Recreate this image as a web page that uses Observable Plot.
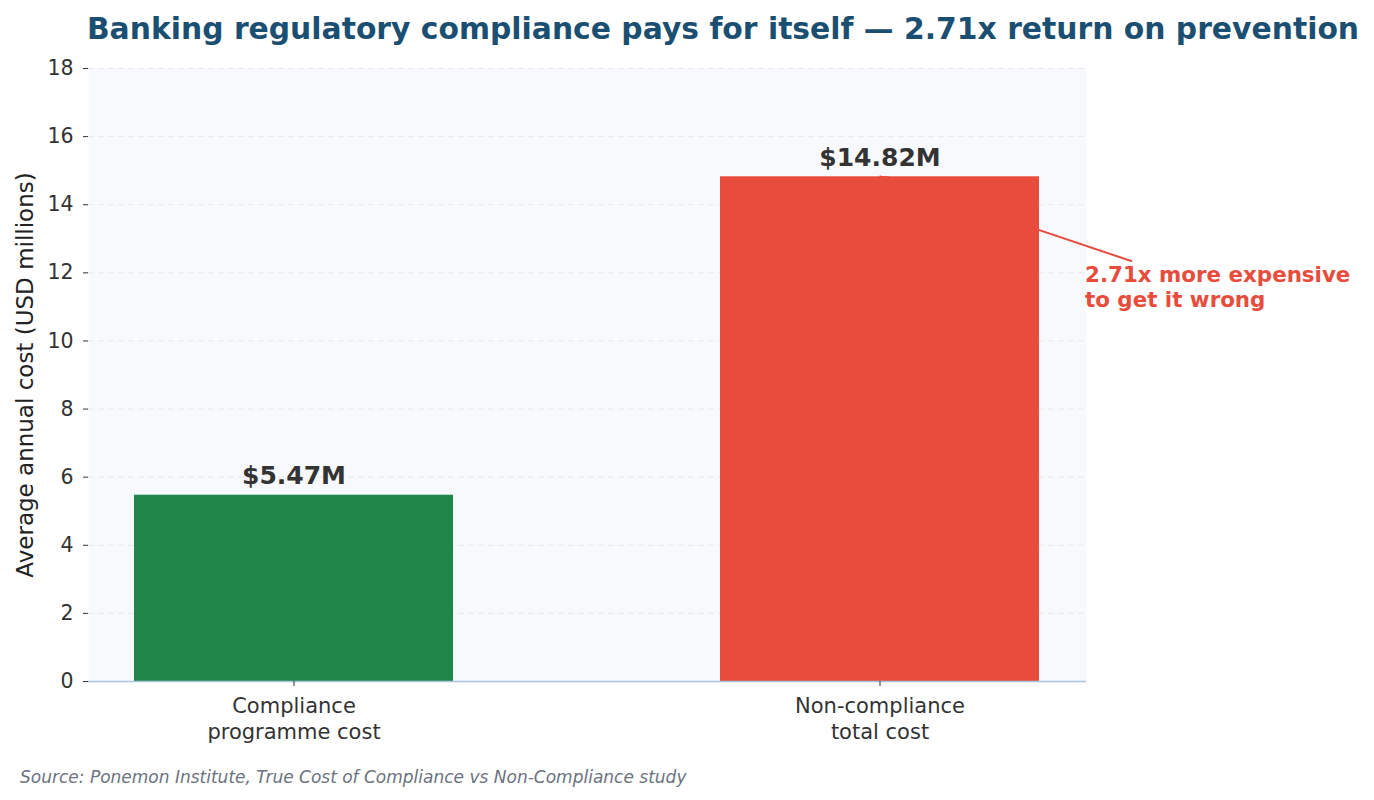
<!DOCTYPE html>
<html>
<head>
<meta charset="utf-8">
<script src="https://cdn.jsdelivr.net/npm/d3@7"></script>
<script src="https://cdn.jsdelivr.net/npm/@observablehq/plot@0.6"></script>
<style>
  html, body { margin: 0; padding: 0; background: #ffffff; }
  body { width: 1374px; height: 800px; position: relative; font-family: "DejaVu Sans", sans-serif; }
  #title { position: absolute; left: 0; top: 11px; width: 1446px; text-align: center; font-size: 29.8px; font-weight: bold; color: #1b4f72; white-space: nowrap; line-height: 1.2; }
  #chart { position: absolute; left: 0; top: 50px; }
  #caption { position: absolute; left: 20px; top: 767px; font-size: 17px; font-style: italic; color: #6b7280; white-space: nowrap; }
  #ylabel { position: absolute; left: 25px; top: 375px; transform: translate(-50%, -50%) rotate(-90deg); font-size: 23px; color: #222; white-space: nowrap; }
</style>
</head>
<body>
<div id="title">Banking regulatory compliance pays for itself — 2.71x return on prevention</div>
<div id="ylabel">Average annual cost (USD millions)</div>
<div id="chart"></div>
<div id="caption">Source: Ponemon Institute, True Cost of Compliance vs Non-Compliance study</div>
<script>
const categories = ["Compliance programme cost", "Non-compliance total cost"];
const tickLabels = ["Compliance\nprogramme cost", "Non-compliance\ntotal cost"];
const values = [5.47, 14.82];
const valueLabels = ["$5.47M", "$14.82M"];
const barColors = ["#20874b", "#e74c3c"];
const yTicks = [0, 2, 4, 6, 8, 10, 12, 14, 16, 18];
const annotationText = "2.71x more expensive\nto get it wrong";

const data = categories.map((c, i) => ({category: c, value: values[i], label: valueLabels[i], color: barColors[i]}));
const annotated = data[1];

// custom mark: annotation line from the text to the top of the annotated bar
function annotationLine(index, scales) {
  const {x, y} = scales;
  const bx = x(annotated.category) + x.bandwidth() / 2;
  const by = y(annotated.value);
  const tx = x(annotated.category) + x.bandwidth() + 93;
  const ty = y(annotated.value) + 85;
  const ns = "http://www.w3.org/2000/svg";
  const g = document.createElementNS(ns, "g");
  const line = document.createElementNS(ns, "line");
  line.setAttribute("x1", tx); line.setAttribute("y1", ty);
  line.setAttribute("x2", bx); line.setAttribute("y2", by);
  line.setAttribute("stroke", "#e74c3c"); line.setAttribute("stroke-width", 2);
  g.appendChild(line);
  const head = document.createElementNS(ns, "path");
  const ang = Math.atan2(by - ty, bx - tx);
  const L = 9, W = 3;
  const p1 = [bx - L * Math.cos(ang) + W * Math.sin(ang), by - L * Math.sin(ang) - W * Math.cos(ang)];
  const p2 = [bx - L * Math.cos(ang) - W * Math.sin(ang), by - L * Math.sin(ang) + W * Math.cos(ang)];
  head.setAttribute("d", `M${bx},${by}L${p1[0]},${p1[1]}L${p2[0]},${p2[1]}Z`);
  head.setAttribute("fill", "#e74c3c");
  g.appendChild(head);
  return g;
}

const plot = Plot.plot({
  width: 1374,
  height: 701,
  marginTop: 18,
  marginLeft: 88,
  marginRight: 288,
  marginBottom: 70,
  style: {fontFamily: "DejaVu Sans, sans-serif", fontSize: "20px", color: "#333", background: "transparent"},
  x: {domain: categories, paddingInner: 0.4556, paddingOuter: 0.079, align: 0.5, label: null},
  y: {domain: [0, 18], label: null},
  marks: [
    Plot.frame({fill: "#f8f9fc", stroke: null}),
    Plot.gridY(yTicks, {stroke: "#dde3ea", strokeOpacity: 0.7, strokeDasharray: "6,4", strokeWidth: 1}),
    annotationLine,
    Plot.barY(data, {x: "category", y: "value", fill: "color"}),
    Plot.ruleX([0], {frameAnchor: "left", stroke: "#a9c3e0", strokeWidth: 1.5}),
    Plot.ruleY([0], {stroke: "#a9c3e0", strokeWidth: 1.5}),
    Plot.axisY({ticks: yTicks, tickSize: 5, tickPadding: 10, fontSize: 20.5, stroke: "#333", fill: "#333", label: null}),
    Plot.axisX({tickSize: 5, tickPadding: 9, fontSize: 21, fill: "#333", stroke: "#333", lineHeight: 1.2, label: null,
      tickFormat: (d) => tickLabels[categories.indexOf(d)]}),
    Plot.text(data, {x: "category", y: "value", text: "label", dy: -19, fontSize: 25, fontWeight: "bold", fill: "#333"}),
    Plot.text([annotated], {x: "category", y: "value", text: () => annotationText, textAnchor: "start", lineAnchor: "top",
      dx: 205, dy: 88, fontSize: 21.4, fontWeight: "bold", fill: "#e74c3c", lineHeight: 1.15})
  ]
});
document.getElementById("chart").appendChild(plot);
</script>
</body>
</html>
